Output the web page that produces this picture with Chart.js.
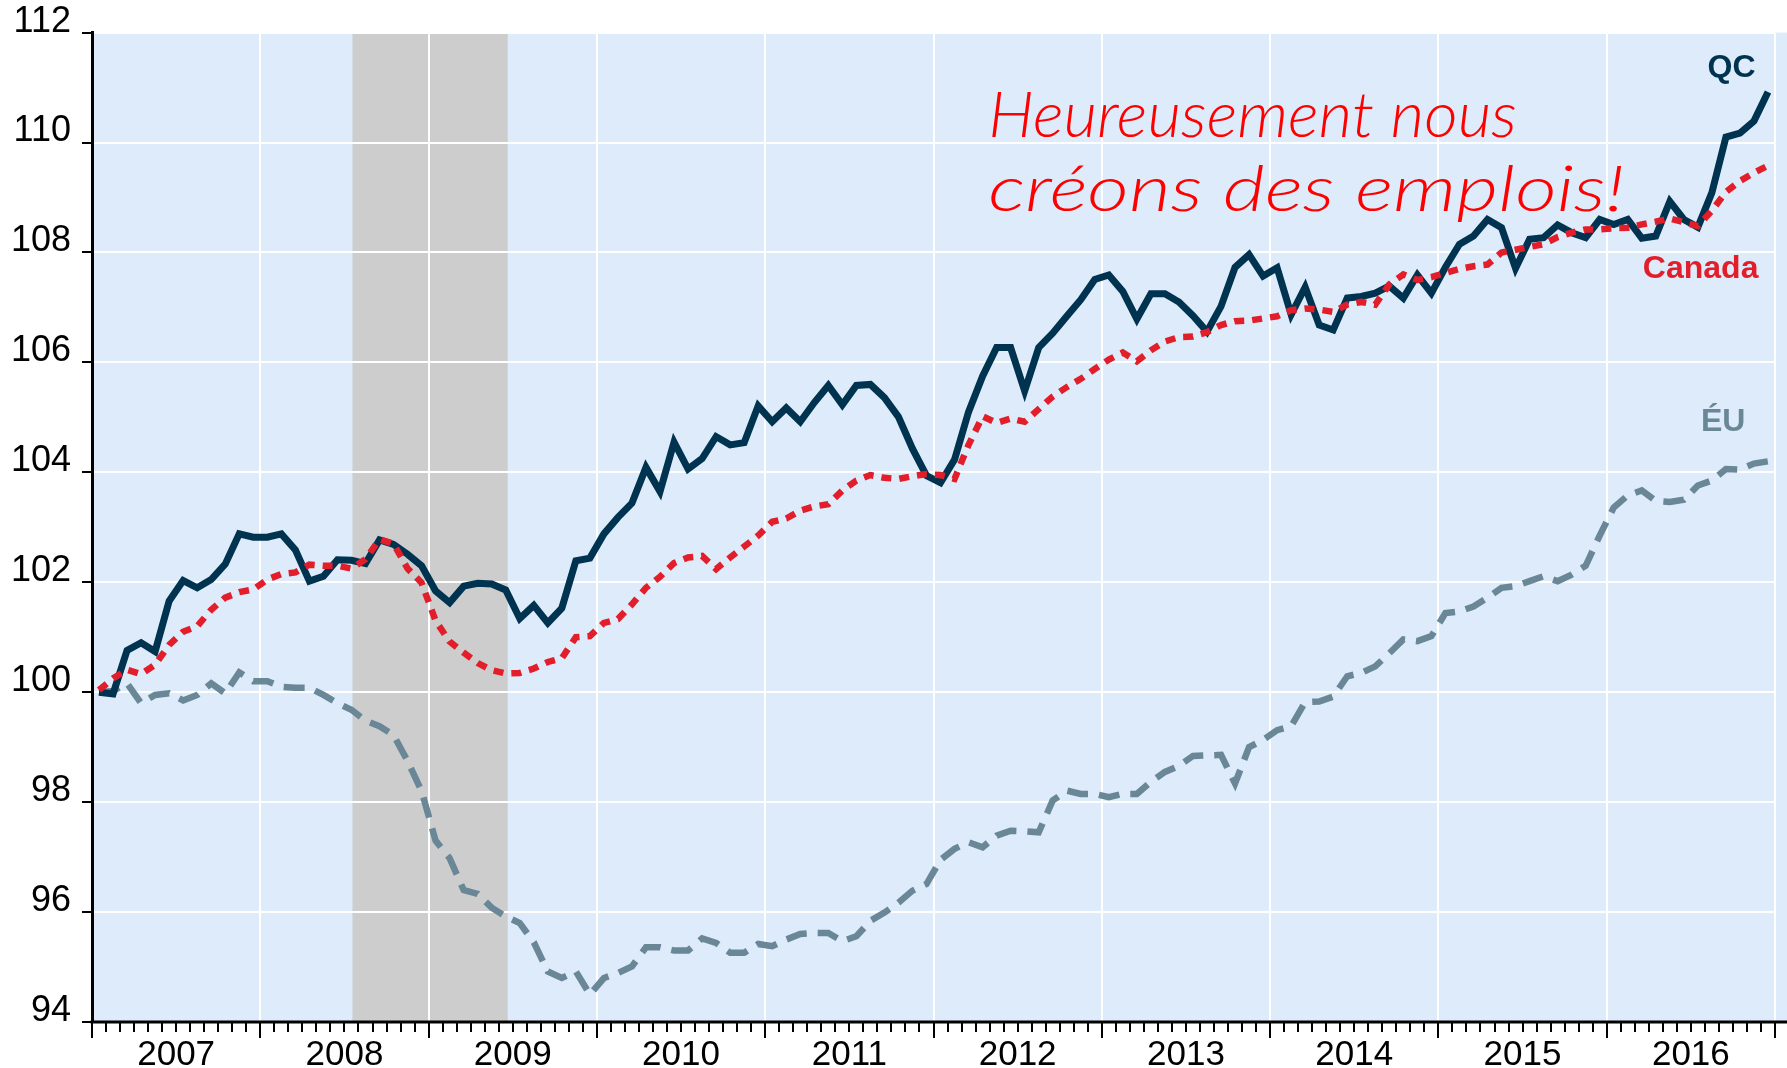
<!DOCTYPE html>
<html>
<head>
<meta charset="utf-8">
<script src="https://cdn.jsdelivr.net/npm/chart.js@4.4.1/dist/chart.umd.min.js"></script>
<style>
  html, body { margin: 0; padding: 0; background: #fff; }
  canvas { display: block; }
</style>
</head>
<body>
<canvas id="emploiChart" width="1787" height="1068"></canvas>
<script>
// Emploi, indice janv. 2007 = 100, donnees mensuelles janv. 2007 - dec. 2016
const yearLabels = ['2007', '2008', '2009', '2010', '2011', '2012', '2013', '2014', '2015', '2016'];
const seriesNames = ['QC', 'Canada', 'ÉU'];

const qcValues = [
  100.00, 99.97, 100.76, 100.90, 100.74, 101.66, 102.03, 101.90, 102.05, 102.33, 102.88, 102.82,
  102.82, 102.88, 102.59, 102.02, 102.11, 102.41, 102.40, 102.34, 102.77, 102.69, 102.51, 102.30,
  101.84, 101.63, 101.93, 101.98, 101.97, 101.86, 101.34, 101.58, 101.26, 101.53, 102.39, 102.44,
  102.88, 103.18, 103.44, 104.09, 103.65, 104.55, 104.06, 104.25, 104.65, 104.50, 104.54, 105.21,
  104.92, 105.17, 104.92, 105.27, 105.58, 105.23, 105.58, 105.60, 105.36, 105.01, 104.43, 103.94,
  103.81, 104.23, 105.10, 105.75, 106.27, 106.27, 105.48, 106.27, 106.53, 106.84, 107.14, 107.51,
  107.59, 107.29, 106.79, 107.25, 107.25, 107.10, 106.85, 106.56, 107.02, 107.73, 107.96, 107.57,
  107.72, 106.87, 107.37, 106.68, 106.59, 107.17, 107.20, 107.26, 107.39, 107.17, 107.59, 107.26,
  107.73, 108.15, 108.30, 108.60, 108.45, 107.71, 108.24, 108.27, 108.50, 108.36, 108.27, 108.60,
  108.51, 108.60, 108.26, 108.30, 108.93, 108.60, 108.46, 109.09, 110.10, 110.17, 110.39, 110.92
];

const canadaValues = [
  100.04, 100.25, 100.41, 100.33, 100.50, 100.86, 101.10, 101.20, 101.50, 101.72, 101.82, 101.87,
  102.05, 102.15, 102.18, 102.32, 102.30, 102.30, 102.25, 102.42, 102.78, 102.70, 102.25, 101.99,
  101.30, 100.92, 100.72, 100.53, 100.40, 100.34, 100.35, 100.43, 100.55, 100.62, 101.00, 101.02,
  101.26, 101.33, 101.60, 101.90, 102.10, 102.35, 102.45, 102.48, 102.24, 102.45, 102.65, 102.85,
  103.10, 103.16, 103.30, 103.38, 103.42, 103.67, 103.85, 103.95, 103.90, 103.88, 103.93, 103.97,
  103.95, 103.88, 104.50, 105.02, 104.90, 104.98, 104.92, 105.15, 105.38, 105.55, 105.70, 105.88,
  106.05, 106.18, 106.02, 106.22, 106.38, 106.46, 106.47, 106.55, 106.68, 106.75, 106.76, 106.80,
  106.84, 106.95, 106.98, 106.96, 106.92, 107.05, 107.10, 107.05, 107.42, 107.60, 107.50, 107.55,
  107.63, 107.70, 107.75, 107.78, 108.00, 108.05, 108.10, 108.15, 108.28, 108.36, 108.42, 108.42,
  108.44, 108.45, 108.51, 108.56, 108.62, 108.55, 108.48, 108.76, 109.10, 109.30, 109.45, 109.58
];

const euValues = [
  100.00, 100.02, 100.16, 99.80, 99.95, 99.98, 99.85, 99.95, 100.16, 99.98, 100.36, 100.20,
  100.20, 100.10, 100.08, 100.08, 99.95, 99.80, 99.68, 99.48, 99.38, 99.22, 98.75, 98.20,
  97.30, 96.98, 96.40, 96.33, 96.08, 95.92, 95.80, 95.45, 94.92, 94.80, 94.92, 94.50,
  94.80, 94.89, 95.01, 95.36, 95.36, 95.30, 95.30, 95.52, 95.44, 95.26, 95.26, 95.42,
  95.38, 95.50, 95.60, 95.62, 95.62, 95.47, 95.56, 95.84, 95.99, 96.17, 96.39, 96.51,
  96.95, 97.15, 97.27, 97.18, 97.39, 97.48, 97.47, 97.45, 98.03, 98.21, 98.15, 98.15,
  98.09, 98.15, 98.15, 98.37, 98.55, 98.66, 98.84, 98.85, 98.86, 98.34, 99.00, 99.13,
  99.31, 99.38, 99.82, 99.83, 99.92, 100.29, 100.35, 100.47, 100.71, 100.96, 100.93, 101.02,
  101.44, 101.47, 101.56, 101.72, 101.90, 101.93, 102.02, 102.11, 102.02, 102.14, 102.30, 102.85,
  103.36, 103.58, 103.67, 103.48, 103.46, 103.50, 103.76, 103.85, 104.06, 104.05, 104.16, 104.20
];

// recession: juil. 2008 a juin 2009 (index des mois depuis janv. 2007)
const recessionStart = 18;
const recessionEnd = 29;

const yMin = 94, yMax = 112, yStep = 2;
const noteLines = ['Heureusement nous', 'créons des emplois!'];

const COLORS = {
  qc: '#00334F',
  canada: '#E31E2B',
  eu: '#6A8797',
  plot: '#DEEBFA',
  recession: '#CDCDCD',
  note: '#FF0000'
};
const FONT = '"Liberation Sans", Arial, Helvetica, sans-serif';

const nMonths = yearLabels.length * 12;
const monthX = i => i + 0.5;   // observation au milieu du mois
const toPoints = arr => arr.map((v, i) => ({ x: monthX(i), y: v }));

// where the series names and the handwritten note sit, in data units
const tagSpots = [
  { x: 116.9, y: 111.35, color: COLORS.qc },
  { x: 114.7, y: 107.70, color: COLORS.canada },
  { x: 116.3, y: 104.92, color: COLORS.eu }
];
const noteSpot = { x0: 63.9, lines: [{ y: 110.1, x1: 101.6 }, { y: 108.76, x1: 109.3 }] };

const backdrop = {
  id: 'backdrop',
  beforeDraw(chart) {
    const { ctx, chartArea: a, scales: { x } } = chart;
    ctx.save();
    ctx.fillStyle = '#fff';
    ctx.fillRect(0, 0, chart.width, chart.height);
    ctx.fillStyle = COLORS.plot;
    ctx.fillRect(a.left, a.top, chart.width - a.left, a.bottom - a.top);
    const r0 = x.getPixelForValue(monthX(recessionStart));
    const r1 = x.getPixelForValue(monthX(recessionEnd));
    ctx.fillStyle = COLORS.recession;
    ctx.fillRect(r0 + 1, a.top, r1 - r0 + 1, a.bottom - a.top);
    ctx.restore();
  },
  afterDraw(chart) {
    const { ctx, chartArea: a, scales: { x } } = chart;
    ctx.save();
    ctx.strokeStyle = '#000';
    ctx.lineWidth = 3;
    ctx.beginPath();
    ctx.moveTo(a.left - 1.5, a.bottom);
    ctx.lineTo(chart.width, a.bottom);
    ctx.stroke();
    ctx.lineWidth = 2;
    for (let m = 0; m <= nMonths; m++) {
      const px = Math.round(x.getPixelForValue(m));
      const len = m % 12 === 0 ? 16 : 10;
      ctx.beginPath();
      ctx.moveTo(px, a.bottom);
      ctx.lineTo(px, a.bottom + len);
      ctx.stroke();
    }
    ctx.restore();
  }
};

const tags = {
  id: 'tags',
  afterDatasetsDraw(chart) {
    const { ctx, scales: { x, y } } = chart;
    ctx.save();
    ctx.textAlign = 'center';
    ctx.textBaseline = 'middle';
    ctx.font = 'bold 32px ' + FONT;
    seriesNames.forEach((name, k) => {
      const s = tagSpots[k];
      ctx.fillStyle = s.color;
      ctx.fillText(name, x.getPixelForValue(s.x), y.getPixelForValue(s.y));
    });

    // the handwritten remark
    ctx.fillStyle = COLORS.note;
    ctx.textAlign = 'left';
    ctx.textBaseline = 'alphabetic';
    ctx.font = 'italic 300 64px Lato, "Open Sans", sans-serif';
    const left = x.getPixelForValue(noteSpot.x0);
    noteLines.forEach((line, k) => {
      const spot = noteSpot.lines[k];
      const want = x.getPixelForValue(spot.x1) - left;
      const have = ctx.measureText(line).width;
      ctx.save();
      ctx.translate(left, y.getPixelForValue(spot.y));
      ctx.scale(want / have, 1);
      ctx.fillText(line, 0, 0);
      ctx.restore();
    });
    ctx.restore();
  }
};

const lineBase = { pointRadius: 0, tension: 0, fill: false, borderWidth: 6.5 };

new Chart(document.getElementById('emploiChart').getContext('2d'), {
  type: 'line',
  data: {
    datasets: [
      Object.assign({}, lineBase, {
        label: seriesNames[1], data: toPoints(canadaValues),
        borderColor: COLORS.canada, borderDash: [10, 8], borderCapStyle: 'butt', order: 0
      }),
      Object.assign({}, lineBase, {
        label: seriesNames[0], data: toPoints(qcValues),
        borderColor: COLORS.qc, borderWidth: 7, order: 1
      }),
      Object.assign({}, lineBase, {
        label: seriesNames[2], data: toPoints(euValues),
        borderColor: COLORS.eu, borderDash: [21, 11], borderCapStyle: 'butt', order: 2
      })
    ]
  },
  options: {
    responsive: false,
    animation: false,
    devicePixelRatio: 1,
    layout: { padding: { top: 32, right: 11, left: 0, bottom: 0 } },
    plugins: { legend: { display: false }, tooltip: { enabled: false } },
    scales: {
      x: {
        type: 'linear',
        min: 0,
        max: nMonths,
        afterFit: s => { s.height = 46; },
        border: { display: false },
        grid: {
          lineWidth: 2,
          drawTicks: false,
          color: c => (c.tick && c.tick.value % 12 === 0 && c.tick.value > 0) ? '#ffffff' : 'rgba(0,0,0,0)'
        },
        ticks: {
          stepSize: 1,
          autoSkip: false,
          maxRotation: 0,
          minRotation: 0,
          padding: 12,
          color: '#000',
          font: { family: FONT, size: 35 },
          callback: v => (v % 12 === 6 ? yearLabels[(v - 6) / 12] : '')
        }
      },
      y: {
        min: yMin,
        max: yMax,
        afterFit: s => { s.width = 92; },
        border: { display: true, color: '#000', width: 3 },
        grid: {
          color: '#ffffff',
          lineWidth: 2,
          tickColor: '#000',
          tickLength: 10,
          tickWidth: 2
        },
        ticks: {
          stepSize: yStep,
          padding: 11,
          labelOffset: -11,
          color: '#000',
          font: { family: FONT, size: 36 }
        }
      }
    }
  },
  plugins: [backdrop, tags]
});
</script>
</body>
</html>
